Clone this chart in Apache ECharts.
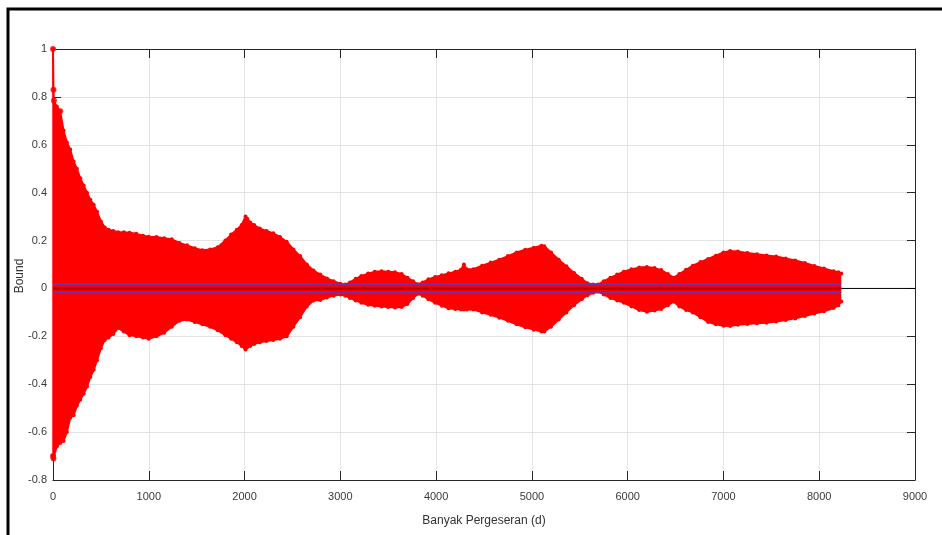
<!DOCTYPE html>
<html>
<head>
<meta charset="utf-8">
<script src="https://cdn.jsdelivr.net/npm/echarts@6/dist/echarts.min.js"></script>
<style>
html,body{margin:0;padding:0;background:#fff;}
#chart{width:942px;height:535px;}
</style>
</head>
<body>
<div id="chart"></div>
<script>
// Lags (d) at which the envelope of the stem plot was read
const lags = [0,5,10,40,75,110,145,180,215,250,285,320,355,390,425,460,500,540,580,630,680,740,800,870,940,1000,1080,1160,1240,1320,1400,1480,1560,1640,1720,1800,1860,1920,1970,2010,2030,2060,2100,2160,2230,2300,2370,2440,2510,2580,2650,2720,2790,2860,2930,3000,3050,3100,3160,3220,3290,3360,3430,3500,3570,3640,3700,3760,3810,3860,3920,3990,4060,4130,4200,4260,4290,4320,4390,4480,4570,4660,4750,4840,4930,5020,5100,5130,5200,5280,5360,5440,5520,5580,5640,5690,5750,5820,5890,5960,6040,6120,6200,6280,6350,6420,6480,6540,6610,6680,6760,6840,6920,7000,7070,7150,7250,7350,7450,7550,7650,7750,7850,7950,8050,8150,8200,8230];
// Upper envelope of the autocorrelation stems
const upperBound = [1.0,0.83,0.78,0.76,0.74,0.66,0.61,0.58,0.53,0.50,0.46,0.43,0.40,0.37,0.35,0.32,0.28,0.255,0.245,0.24,0.235,0.235,0.233,0.228,0.22,0.216,0.215,0.21,0.205,0.19,0.18,0.168,0.16,0.163,0.172,0.2,0.225,0.245,0.265,0.30,0.29,0.275,0.265,0.25,0.24,0.23,0.215,0.195,0.163,0.135,0.1,0.075,0.058,0.042,0.03,0.02,0.016,0.025,0.04,0.052,0.062,0.07,0.072,0.07,0.068,0.06,0.045,0.03,0.017,0.025,0.038,0.048,0.055,0.063,0.07,0.078,0.1,0.08,0.08,0.095,0.108,0.12,0.135,0.15,0.162,0.17,0.178,0.176,0.15,0.12,0.093,0.065,0.04,0.022,0.016,0.016,0.03,0.045,0.058,0.07,0.08,0.087,0.09,0.085,0.077,0.06,0.045,0.06,0.078,0.095,0.11,0.123,0.137,0.15,0.156,0.154,0.148,0.143,0.138,0.133,0.125,0.117,0.106,0.094,0.083,0.072,0.068,0.062];
// Lower envelope of the autocorrelation stems
const lowerBound = [-0.70,-0.71,-0.70,-0.66,-0.645,-0.637,-0.6,-0.54,-0.53,-0.49,-0.465,-0.44,-0.41,-0.37,-0.34,-0.30,-0.25,-0.215,-0.205,-0.19,-0.165,-0.18,-0.195,-0.2,-0.205,-0.21,-0.2,-0.185,-0.16,-0.135,-0.13,-0.14,-0.15,-0.16,-0.175,-0.195,-0.21,-0.225,-0.24,-0.255,-0.245,-0.24,-0.232,-0.225,-0.22,-0.215,-0.21,-0.2,-0.16,-0.12,-0.075,-0.05,-0.048,-0.038,-0.03,-0.025,-0.03,-0.04,-0.05,-0.06,-0.068,-0.072,-0.075,-0.078,-0.08,-0.078,-0.065,-0.04,-0.022,-0.03,-0.045,-0.06,-0.072,-0.083,-0.086,-0.088,-0.088,-0.088,-0.088,-0.1,-0.11,-0.122,-0.135,-0.15,-0.162,-0.172,-0.18,-0.18,-0.16,-0.13,-0.1,-0.07,-0.045,-0.028,-0.018,-0.012,-0.025,-0.04,-0.05,-0.06,-0.075,-0.09,-0.097,-0.092,-0.086,-0.07,-0.055,-0.075,-0.09,-0.1,-0.12,-0.14,-0.15,-0.156,-0.157,-0.152,-0.148,-0.145,-0.143,-0.138,-0.132,-0.125,-0.115,-0.105,-0.095,-0.082,-0.07,-0.055];
// Individual stem heads visible near lag 0
const stemHeadLags = [0,5,10,75,0,5];
const stemHeadVals = [1.0,0.83,0.785,0.74,-0.70,-0.71];
// Confidence bounds (blue lines)
const confBound = [0.018,-0.018];
const lagRange = [0,8230];
// Axes
const xTicks = {min:0,max:9000,interval:1000};
const yTicks = {min:-0.8,max:1,interval:0.2};
const xLabel = 'Banyak Pergeseran (d)';
const yLabel = 'Bound';

const FONT = '"Liberation Sans",Arial,sans-serif';
const AXC = '#262626';

const upperData = lags.map((d,i)=>[d,upperBound[i]]);
const lowerData = lags.map((d,i)=>[d,lowerBound[i]]);
const headData = stemHeadLags.map((d,i)=>[d,stemHeadVals[i]]);

const chart = echarts.init(document.getElementById('chart'),null,{renderer:'canvas'});

const baseX = {
  type:'value', min:xTicks.min, max:xTicks.max, interval:xTicks.interval,
  axisLine:{show:true,onZero:false,lineStyle:{color:AXC,width:1}},
  axisTick:{show:true,inside:true,length:9,lineStyle:{color:AXC}},
};
const baseY = {
  type:'value', min:yTicks.min, max:yTicks.max, interval:yTicks.interval,
  axisLine:{show:true,onZero:false,lineStyle:{color:AXC,width:1}},
  axisTick:{show:true,inside:true,length:8,lineStyle:{color:AXC}},
};

chart.setOption({
  animation:false,
  backgroundColor:'#fff',
  grid:{left:53,top:49,right:27,bottom:55,containLabel:false},
  xAxis:[
    Object.assign({},baseX,{
      position:'bottom',
      name:xLabel, nameLocation:'middle', nameGap:35,
      nameTextStyle:{fontFamily:FONT,fontSize:12,color:'#333'},
      axisLabel:{show:true,margin:11,fontFamily:FONT,fontSize:11,color:'#3a3a3a',formatter:(v)=>String(Math.round(v))},
      splitLine:{show:true,lineStyle:{color:'#e3e3e3',width:1}}
    }),
    Object.assign({},baseX,{
      position:'top',
      axisLabel:{show:false},
      splitLine:{show:false}
    })
  ],
  yAxis:[
    Object.assign({},baseY,{
      position:'left',
      axisLabel:{show:true,margin:6,fontFamily:FONT,fontSize:11,color:'#3a3a3a',formatter:(v)=>String(Math.round(v*10)/10)},
      splitLine:{show:true,lineStyle:{color:'#e3e3e3',width:1}}
    }),
    Object.assign({},baseY,{
      position:'right',
      axisLabel:{show:false},
      splitLine:{show:false}
    })
  ],
  graphic:[
    {type:'rect',shape:{x:8,y:9,width:1200,height:1200},style:{fill:null,stroke:'#000',lineWidth:3},z:100,silent:true},
    {type:'text',x:20,y:276,rotation:Math.PI/2,style:{text:yLabel,fontFamily:FONT,fontSize:12,fill:'#333',align:'center',verticalAlign:'middle'},silent:true}
  ],
  series:[
    {type:'line',name:'baseline',data:[[xTicks.min,0],[xTicks.max,0]],showSymbol:false,lineStyle:{color:'#000',width:1},z:1,silent:true},
    {type:'line',name:'upper',data:upperData,showSymbol:true,symbol:'circle',symbolSize:4,itemStyle:{color:'#ff0000'},lineStyle:{color:'#ff0000',width:2},areaStyle:{color:'#ff0000',opacity:1,origin:0},z:2,silent:true},
    {type:'line',name:'lower',data:lowerData,showSymbol:true,symbol:'circle',symbolSize:4,itemStyle:{color:'#ff0000'},lineStyle:{color:'#ff0000',width:2},areaStyle:{color:'#ff0000',opacity:1,origin:0},z:2,silent:true},
    {type:'line',name:'stem0',data:[[0,stemHeadVals[4]],[0,stemHeadVals[0]]],showSymbol:false,lineStyle:{color:'#ff0000',width:1.5},z:3,silent:true},
    {type:'scatter',name:'heads',data:headData,symbol:'circle',symbolSize:6,itemStyle:{color:'#ff0000'},z:4,silent:true},
    {type:'line',name:'zero',data:[[lagRange[0],0],[lagRange[1],0]],showSymbol:false,lineStyle:{color:'#b80000',width:2.5},z:5,silent:true},
    {type:'line',name:'confUp',data:[[lagRange[0],confBound[0]],[lagRange[1],confBound[0]]],showSymbol:false,lineStyle:{color:'#7a2ea6',width:1.5},z:5,silent:true},
    {type:'line',name:'confLo',data:[[lagRange[0],confBound[1]],[lagRange[1],confBound[1]]],showSymbol:false,lineStyle:{color:'#7a2ea6',width:1.5},z:5,silent:true}
  ]
});
</script>
</body>
</html>
